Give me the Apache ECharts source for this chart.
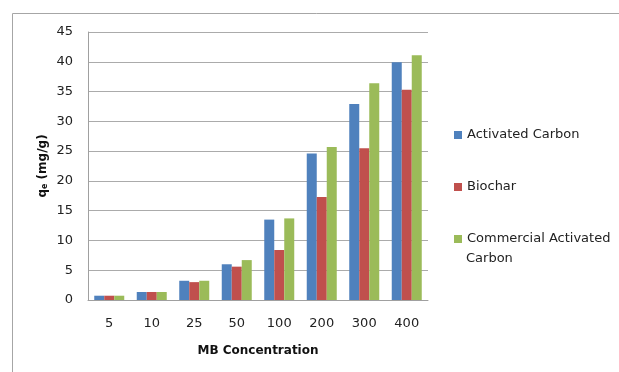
<!DOCTYPE html>
<html><head><meta charset="utf-8">
<script src="https://cdn.jsdelivr.net/npm/echarts@6/dist/echarts.min.js"></script>
<style>html,body{margin:0;padding:0;background:#fff}#c{width:619px;height:372px}</style>
</head><body><div id="c"></div>
<script>
const categories = ['5','10','25','50','100','200','300','400'];
const activatedCarbon = [0.72, 1.34, 3.23, 6.0, 13.5, 24.6, 32.9, 39.9];
const biochar = [0.72, 1.34, 3.0, 5.6, 8.4, 17.3, 25.5, 35.3];
const commercialAC = [0.72, 1.34, 3.23, 6.7, 13.7, 25.7, 36.4, 41.1];
const seriesNames = ['Activated Carbon', 'Biochar', 'Commercial Activated Carbon'];
const colors = ['#4F81BD', '#C0504D', '#9BBB59'];

const font = 'DejaVu Sans';
const legTop = [128, 180, 232];
const legendBase = {
  orient: 'vertical', left: 454, padding: 0, itemWidth: 8, itemHeight: 8, itemGap: 0,
  itemTextGap: 3, icon: 'rect',
  textStyle: {fontFamily: font, fontSize: 13, color: '#222', lineHeight: 14}
};
const chart = echarts.init(document.getElementById('c'), null, {renderer: 'canvas'});
chart.setOption({
  animation: false,
  textStyle: {fontFamily: font},
  graphic: [{
    type: 'rect', silent: true, z: -10,
    shape: {x: 12.5, y: 13.5, width: 700, height: 500},
    style: {fill: 'none', stroke: '#a6a6a6', lineWidth: 1}
  }, {
    type: 'text', left: 466, top: 252, silent: true,
    style: {text: 'Carbon', fontFamily: font, fontSize: 13, fill: '#222'}
  }],
  grid: {left: 88, right: 191, top: 32, bottom: 72, containLabel: false},
  legend: [
    Object.assign({}, legendBase, {top: legTop[0], data: [seriesNames[0]]}),
    Object.assign({}, legendBase, {top: legTop[1], data: [seriesNames[1]]}),
    Object.assign({}, legendBase, {top: legTop[2], data: [seriesNames[2]],
      formatter: () => 'Commercial Activated'})
  ],
  xAxis: {
    type: 'category', data: categories,
    name: 'MB Concentration', nameLocation: 'middle', nameGap: 45, nameMoveOverlap: false,
    nameTextStyle: {fontFamily: font, fontSize: 12, fontWeight: 'bold', color: '#111'},
    axisLine: {lineStyle: {color: '#a0a0a0'}},
    axisTick: {show: false},
    axisLabel: {fontFamily: font, fontSize: 13, color: '#222', margin: 17}
  },
  yAxis: {
    type: 'value', min: 0, max: 45, interval: 5,
    name: '{q|q}{e|e}{q| (mg/g)}', nameLocation: 'middle', nameGap: 39, nameRotate: 90,
    nameMoveOverlap: false,
    nameTextStyle: {rich: {
      q: {fontFamily: font, fontSize: 12, fontWeight: 'bold', color: '#111'},
      e: {fontFamily: font, fontSize: 8, fontWeight: 'bold', color: '#111', verticalAlign: 'bottom', padding: [4, 0, 0, 0]}
    }},
    axisLine: {show: true, lineStyle: {color: '#a0a0a0'}},
    axisTick: {show: false},
    splitLine: {lineStyle: {color: '#ababab', width: 1}},
    axisLabel: {fontFamily: font, fontSize: 13, color: '#222', margin: 15}
  },
  series: [
    {name: seriesNames[0], type: 'bar', data: activatedCarbon, barWidth: 10, barGap: '0%', itemStyle: {color: colors[0]}},
    {name: seriesNames[1], type: 'bar', data: biochar, barWidth: 10, barGap: '0%', itemStyle: {color: colors[1]}},
    {name: seriesNames[2], type: 'bar', data: commercialAC, barWidth: 10, barGap: '0%', itemStyle: {color: colors[2]}}
  ]
});
</script></body></html>
